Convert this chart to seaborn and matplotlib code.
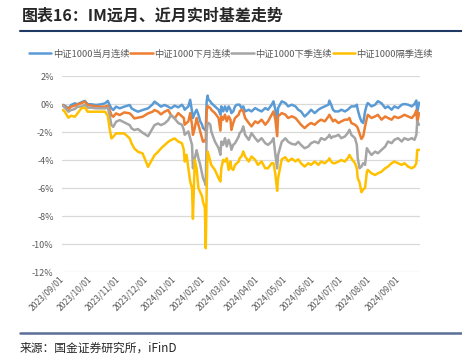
import matplotlib
matplotlib.use("Agg")
import pandas as pd
import matplotlib.pyplot as plt
import matplotlib.dates as mdates
from matplotlib.lines import Line2D
from matplotlib.ticker import FuncFormatter
import seaborn as sns

# Dates sampled from the chart (about every 3-4 days)
dates = [
    "2023-09-01", "2023-09-03", "2023-09-07", "2023-09-10", "2023-09-14", "2023-09-17",
    "2023-09-21", "2023-09-25", "2023-09-28", "2023-10-02", "2023-10-07", "2023-10-13",
    "2023-10-17", "2023-10-20", "2023-10-22", "2023-10-24", "2023-10-26", "2023-10-29",
    "2023-11-02", "2023-11-07", "2023-11-13", "2023-11-15", "2023-11-18", "2023-11-22",
    "2023-11-27", "2023-12-03", "2023-12-08", "2023-12-10", "2023-12-14", "2023-12-17",
    "2023-12-21", "2023-12-25", "2023-12-28", "2024-01-01",
    "2024-01-05", "2024-01-09", "2024-01-11", "2024-01-12", "2024-01-14", "2024-01-16",
    "2024-01-18", "2024-01-20", "2024-01-21", "2024-01-23", "2024-01-25", "2024-01-27",
    "2024-01-29", "2024-01-31", "2024-02-01", "2024-02-03", "2024-02-04", "2024-02-05",
    "2024-02-06", "2024-02-07", "2024-02-09", "2024-02-10", "2024-02-14", "2024-02-18",
    "2024-02-20", "2024-02-21", "2024-02-23", "2024-02-25", "2024-02-27", "2024-02-29",
    "2024-03-02", "2024-03-03", "2024-03-05", "2024-03-07", "2024-03-09", "2024-03-11",
    "2024-03-12", "2024-03-14", "2024-03-16", "2024-03-18", "2024-03-22", "2024-03-25",
    "2024-03-29", "2024-04-01", "2024-04-05", "2024-04-09", "2024-04-12", "2024-04-16",
    "2024-04-18", "2024-04-20", "2024-04-22", "2024-04-23", "2024-04-27", "2024-05-01",
    "2024-05-04", "2024-05-08", "2024-05-12", "2024-05-15",
    "2024-05-18", "2024-05-22", "2024-05-26", "2024-05-29", "2024-06-02", "2024-06-06",
    "2024-06-09", "2024-06-13", "2024-06-17", "2024-06-18", "2024-06-20", "2024-06-22",
    "2024-06-24", "2024-06-28", "2024-07-01", "2024-07-05", "2024-07-08", "2024-07-10",
    "2024-07-12", "2024-07-16", "2024-07-18", "2024-07-19", "2024-07-21", "2024-07-23",
    "2024-07-25", "2024-07-27", "2024-07-29", "2024-07-30", "2024-08-03", "2024-08-07",
    "2024-08-10", "2024-08-14", "2024-08-18", "2024-08-21", "2024-08-25", "2024-08-28",
    "2024-09-01", "2024-09-05", "2024-09-08", "2024-09-12", "2024-09-16", "2024-09-19",
    "2024-09-21", "2024-09-22", "2024-09-24",
]

# basis, %
dangyue = [
    -0.07, -0.12, -0.31, -0.07, 0.05, -0.02, 0.12, 0.22, -0.02, -0.02, -0.07, -0.02,
    0.05, 0.22, -0.07, -0.31, -0.43, -0.19, -0.31, -0.19, -0.07, -0.31, -0.43, -0.55,
    -0.43, -0.31, -0.02, 0.17, -0.02, -0.19, -0.07, -0.19, -0.31, -0.12,
    -0.24, -0.05, -0.24, -0.41, -0.29, -0.17, 0.3, -0.53, -1.0, -0.65, -0.41, -0.76,
    -1.24, -1.48, -1.72, -1.84, -1.9, 0.2, 0.6, 0.31, 0.19, 0.07, -0.17, -0.41,
    -0.76, -0.17, -0.53, -0.17, -0.53, -0.17, -0.41, -0.65, -0.53, -0.17, -0.05, -0.05,
    -0.05, -0.29, -0.17, -0.53, -0.41, -0.53, -0.29, -0.41, -0.53, -0.29, -0.41, -0.05,
    0.19, -0.4, -1.2, -0.29, 0.19, 0.07, -0.17, -0.05, -0.17, -0.41,
    -0.53, -0.89, -0.65, -0.41, -0.65, -0.41, -0.29, -0.17, -0.05, 0.24, -0.05, -0.41,
    -0.53, -0.53, -0.41, -0.53, -0.41, -0.29, -0.17, -0.17, -0.05, -0.41, -0.89, -1.24,
    -1.36, -0.53, -0.05, 0.07, -0.17, -0.05, 0.2, 0.05, -0.29, -0.17, -0.41, -0.17,
    -0.29, -0.05, 0.0, -0.05, -0.17, 0.0, 0.25, -0.6, 0.1,
]
xiayue = [
    -0.07, -0.19, -0.36, -0.19, -0.12, -0.02, 0.05, 0.17, -0.07, -0.12, -0.17, -0.19,
    -0.19, -0.12, -0.43, -0.79, -0.91, -0.67, -0.79, -0.6, -0.67, -0.79, -1.03, -0.98,
    -0.91, -0.67, -0.55, -0.43, -0.55, -0.74, -0.55, -0.43, -0.79, -1.03,
    -0.65, -0.88, -1.0, -1.48, -1.36, -1.24, -0.65, -1.48, -2.2, -1.72, -1.0, -1.48,
    -1.96, -2.44, -2.7, -2.6, -2.7, -0.5, -0.15, -0.2, -0.29, -0.41, -0.65, -1.0,
    -1.9, -0.88, -1.12, -0.76, -1.24, -0.88, -1.12, -1.85, -1.36, -1.0, -0.88, -0.76,
    -0.53, -0.41, -0.53, -1.0, -1.36, -1.6, -1.24, -1.36, -1.12, -1.48, -1.24, -0.76,
    -0.53, -1.1, -2.3, -0.88, -0.65, -0.76, -1.0, -0.88, -1.0, -1.24,
    -1.48, -1.72, -1.48, -1.36, -1.48, -1.24, -1.12, -1.24, -0.89, -0.77, -1.0, -1.24,
    -1.12, -1.36, -1.24, -1.12, -1.12, -1.0, -1.36, -1.48, -1.6, -1.72, -2.1, -2.5,
    -2.3, -1.6, -1.0, -0.77, -1.0, -0.89, -0.77, -1.12, -0.89, -1.0, -1.12, -0.89,
    -1.0, -0.89, -0.77, -0.89, -1.0, -0.77, -0.45, -1.3, -0.65,
]
xiaji = [
    -0.12, -0.26, -0.55, -0.43, -0.36, -0.19, -0.19, -0.07, -0.26, -0.26, -0.31, -0.31,
    -0.31, -0.26, -0.79, -1.51, -1.63, -1.27, -1.15, -1.31, -1.51, -1.74, -1.86, -1.79,
    -2.05, -2.3, -1.74, -1.51, -1.39, -1.51, -1.39, -1.15, -0.79, -1.03,
    -1.36, -1.48, -1.84, -2.2, -2.08, -1.96, -2.44, -2.92, -4.59, -3.87, -3.3, -3.87,
    -4.35, -5.0, -5.3, -5.6, -5.8, -2.0, -1.4, -1.35, -1.48, -1.96, -2.68, -3.15,
    -3.63, -2.68, -2.92, -2.44, -3.03, -2.56, -2.92, -3.27, -2.92, -2.8, -2.56, -2.32,
    -2.08, -1.96, -1.6, -2.2, -2.56, -2.08, -2.44, -2.68, -2.44, -2.8, -2.92, -2.68,
    -2.44, -3.6, -4.6, -3.63, -2.7, -2.45, -2.7, -2.85, -2.9, -2.7,
    -2.92, -3.16, -3.04, -2.8, -2.68, -2.8, -2.44, -2.56, -2.32, -2.2, -2.44, -2.32,
    -2.32, -2.2, -2.44, -2.32, -2.08, -1.84, -2.2, -2.44, -2.92, -3.88, -4.59, -4.47,
    -4.23, -4.35, -3.16, -3.28, -3.64, -3.4, -3.52, -3.28, -3.04, -2.68, -2.8, -2.56,
    -2.44, -2.68, -2.44, -2.56, -2.44, -2.56, -2.2, -1.24, -1.48,
]
geji = [
    -0.43, -0.55, -0.98, -0.84, -0.91, -0.67, -0.31, -0.26, -0.55, -0.55, -0.55, -0.55,
    -0.55, -0.84, -1.74, -2.46, -2.34, -2.1, -2.1, -2.1, -2.46, -2.82, -3.18, -3.41,
    -3.53, -4.49, -3.9, -3.66, -3.41, -3.18, -2.94, -2.7, -2.58, -2.46,
    -2.68, -2.8, -3.27, -4.11, -3.63, -4.59, -5.54, -6.02, -8.2, -4.0, -4.6, -6.0,
    -6.3, -6.6, -7.0, -7.4, -10.3, -6.2, -3.4, -3.6, -4.11, -4.35, -4.71, -5.3,
    -5.54, -4.59, -3.99, -4.11, -3.87, -4.71, -4.11, -4.59, -4.71, -4.35, -4.23, -4.11,
    -3.87, -3.75, -3.39, -3.75, -4.11, -3.75, -3.99, -4.35, -4.11, -4.59, -4.59, -4.23,
    -4.23, -5.0, -6.2, -5.3, -3.95, -3.8, -4.1, -3.9, -4.1, -3.95,
    -4.23, -4.47, -4.23, -4.35, -4.11, -4.35, -4.11, -4.23, -4.0, -3.88, -4.11, -4.23,
    -4.23, -4.11, -4.0, -4.11, -3.88, -3.64, -3.88, -4.23, -4.59, -5.31, -5.6, -6.3,
    -6.1, -6.0, -4.83, -4.71, -4.95, -5.07, -4.95, -4.83, -4.59, -4.47, -4.23, -4.11,
    -4.23, -4.35, -4.23, -4.47, -4.59, -4.47, -4.23, -3.28, -3.28,
]

names = ["中证1000当月连续", "中证1000下月连续", "中证1000下季连续", "中证1000隔季连续"]
colors = ["#5B9BD5", "#ED7D31", "#A5A5A5", "#FFC000"]

df = pd.DataFrame({"date": pd.to_datetime(dates),
                   names[0]: dangyue, names[1]: xiayue,
                   names[2]: xiaji, names[3]: geji})
long = df.melt(id_vars="date", var_name="series", value_name="basis")

sns.set_style("white")
plt.rcParams['font.family'] = ['Noto Sans CJK SC', 'DejaVu Sans']

W, H = 462, 356
fig = plt.figure(figsize=(W / 100, H / 100), dpi=100)
ax = fig.add_axes([62 / W, 1 - 272 / H, 358 / W, 196 / H])

sns.lineplot(data=long, x="date", y="basis", hue="series", hue_order=names,
             palette=colors, linewidth=1.8, ax=ax)

ax.set_ylim(-12, 2)
ax.set_yticks(range(-12, 3, 2))
ax.yaxis.set_major_formatter(FuncFormatter(lambda v, p: f"{v:.0f}%"))
ax.set_xlim(pd.Timestamp("2023-08-31"), pd.Timestamp("2024-09-25"))
ax.xaxis.set_major_locator(mdates.MonthLocator())
ax.xaxis.set_major_formatter(mdates.DateFormatter("%Y/%m/%d"))
ax.yaxis.grid(True, color="#D9D9D9", linewidth=0.9)
ax.xaxis.grid(False)
ax.set_axisbelow(True)
for s in ax.spines.values():
    s.set_visible(False)
ax.set_xlabel("")
ax.set_ylabel("")
ax.tick_params(axis="y", length=0, pad=6, labelsize=6.5, labelcolor="#595959")
ax.tick_params(axis="x", length=0, pad=4, labelsize=6.2, labelcolor="#595959")
for lab in ax.get_xticklabels():
    lab.set_rotation(45)
    lab.set_ha("right")
    lab.set_va("center")
    lab.set_rotation_mode("anchor")

sns.move_legend(ax, "center", bbox_to_anchor=((231 - 62) / 358, (272 - 54) / 196),
                ncol=4, frameon=False, title=None, fontsize=6.7,
                handlelength=2.4, handletextpad=0.15, columnspacing=0.1,
                labelcolor="#595959")

fig.text(22 / W, 1 - 16 / H, "图表16：IM远月、近月实时基差走势", fontsize=11.5,
         fontweight="bold", style="italic", va="center", ha="left")
fig.add_artist(Line2D([20 / W, 1.0], [1 - 31 / H, 1 - 31 / H], color="#1F3864", lw=1.5))
fig.add_artist(Line2D([20 / W, 1.0], [1 - 333 / H, 1 - 333 / H], color="#5B6F96", lw=1.8))
fig.text(20 / W, 1 - 348 / H, "来源：国金证券研究所，iFinD", fontsize=8.5,
         va="center", ha="left")

fig.savefig("out.png", dpi=100)
